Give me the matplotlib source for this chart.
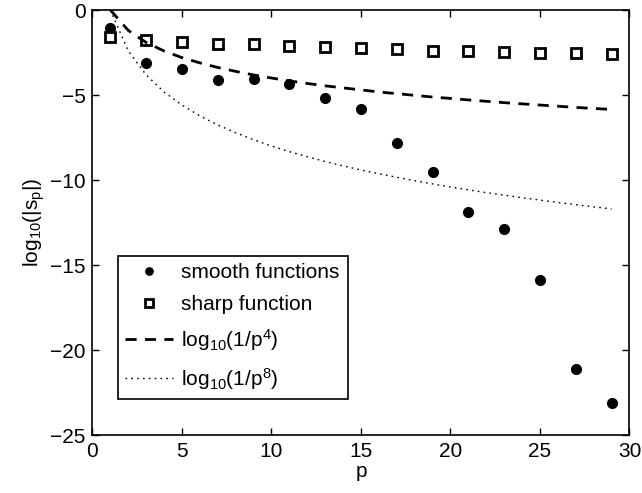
import matplotlib.pyplot as plt

plt.rcParams['font.family'] = ['Liberation Sans', 'DejaVu Sans']
plt.rcParams['mathtext.fontset'] = 'custom'
plt.rcParams['mathtext.rm'] = 'Liberation Sans'
plt.rcParams['mathtext.it'] = 'Liberation Sans'

# odd p values for the two data series
p_pts = [1, 3, 5, 7, 9, 11, 13, 15, 17, 19, 21, 23, 25, 27, 29]
smooth = [-1.07, -3.1, -3.47, -4.1, -4.04, -4.33, -5.2, -5.8, -7.85, -9.55,
          -11.9, -12.9, -15.9, -21.1, -23.1]
sharp = [-1.57, -1.76, -1.86, -2.02, -2.02, -2.1, -2.2, -2.25, -2.3, -2.39,
         -2.4, -2.45, -2.5, -2.53, -2.6]

# reference curves log10(1/p^4) and log10(1/p^8), p = 1..29
p_line = list(range(1, 30))
ref4 = [0, -1.20, -1.91, -2.41, -2.80, -3.11, -3.38, -3.61, -3.82, -4.00,
        -4.17, -4.32, -4.46, -4.58, -4.70, -4.82, -4.92, -5.02, -5.12, -5.20,
        -5.29, -5.37, -5.45, -5.52, -5.59, -5.66, -5.73, -5.79, -5.85]
ref8 = [0, -2.41, -3.82, -4.82, -5.59, -6.23, -6.76, -7.22, -7.63, -8.00,
        -8.33, -8.63, -8.91, -9.17, -9.41, -9.63, -9.84, -10.04, -10.23, -10.41,
        -10.58, -10.74, -10.89, -11.04, -11.18, -11.32, -11.45, -11.58, -11.70]

fig = plt.figure(figsize=(6.42, 4.93), dpi=100)
ax = fig.add_axes([0.144, 0.1176, 0.8365, 0.8621])

ax.plot(p_pts, smooth, 'o', color='black', markersize=7, label='smooth functions')
ax.plot(p_pts, sharp, 's', color='black', markerfacecolor='white',
        markeredgewidth=2, markersize=7, label='sharp function')
ax.plot(p_line, ref4, '--', color='black', linewidth=2, dashes=(4, 3),
        label=r'$\mathregular{log_{10}(1/p^4)}$')
ax.plot(p_line, ref8, color='black', linewidth=1, dashes=(1.2, 3),
        label=r'$\mathregular{log_{10}(1/p^8)}$')

ax.set_xlim(0, 30)
ax.set_ylim(-25, 0)
ax.set_xticks([0, 5, 10, 15, 20, 25, 30])
ax.set_yticks([-25, -20, -15, -10, -5, 0])
ax.tick_params(direction='in', top=True, right=True, labelsize=15, length=5,
               width=1, pad=5)
for s in ax.spines.values():
    s.set_linewidth(1.2)
ax.set_xlabel('p', fontsize=15, labelpad=1)
ax.set_ylabel(r'$\mathregular{log_{10}(|s_p|)}$', fontsize=15, labelpad=2)

leg = ax.legend(loc='lower left', bbox_to_anchor=(0.0475, 0.0847, 0.4285, 0.3415),
                mode='expand', borderaxespad=0, fancybox=False, framealpha=1,
                edgecolor='black', fontsize=15, handlelength=2.3,
                labelspacing=0.62, borderpad=0.35, handletextpad=0.4,
                markerscale=0.75)
leg.get_frame().set_linewidth(1.2)

plt.savefig('out.png', dpi=100)
